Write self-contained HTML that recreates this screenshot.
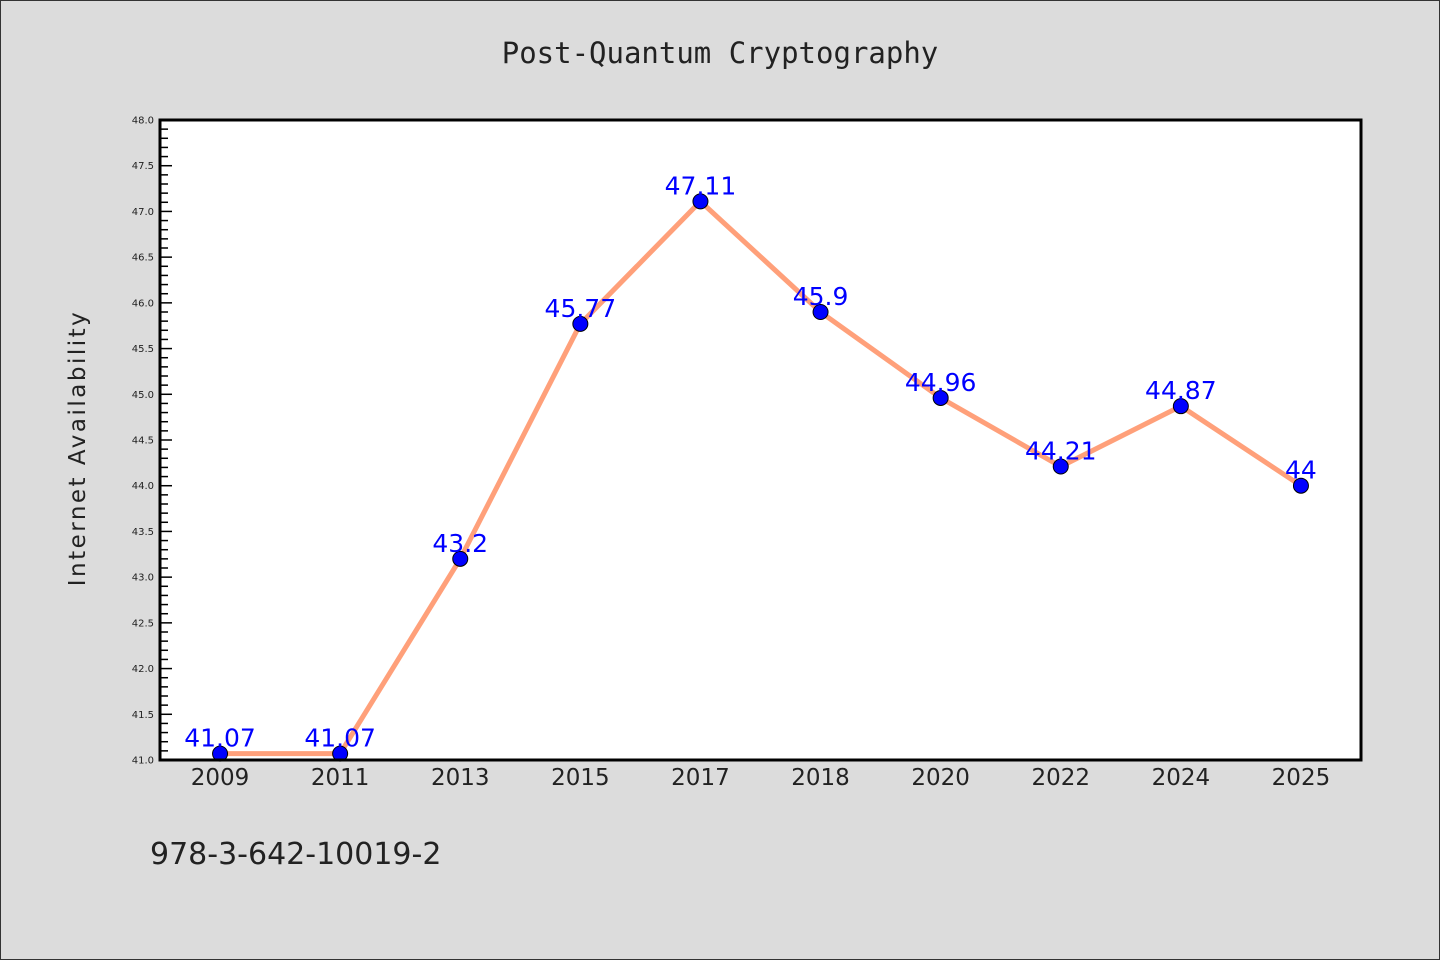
<!DOCTYPE html>
<html><head><meta charset="utf-8"><style>
body{margin:0;background:#dcdcdc;}
svg{display:block;font-family:"DejaVu Sans","Liberation Sans",sans-serif;}
</style></head><body>
<svg id="c" width="1440" height="960">
<rect x="0.5" y="0.5" width="1439" height="959" fill="#dcdcdc" stroke="#333"/>
<text x="720" y="63" text-anchor="middle" font-size="29" font-family="DejaVu Sans Mono, Liberation Mono, monospace" fill="#222">Post-Quantum Cryptography</text>
<text transform="translate(85,448) rotate(-90)" text-anchor="middle" font-size="23" letter-spacing="2.5" fill="#222">Internet Availability</text>
<text x="150" y="864" font-size="30" fill="#222">978-3-642-10019-2</text>
<rect x="160" y="120" width="1201" height="640" fill="#fff"/>
<g id="ticks"></g>
<g id="marks"></g>
<rect x="160" y="120" width="1201" height="640" fill="none" stroke="#000" stroke-width="3"/>
</svg>
<script>
const categories=["2009","2011","2013","2015","2017","2018","2020","2022","2024","2025"];
const values=[41.07,41.07,43.2,45.77,47.11,45.9,44.96,44.21,44.87,44];
const valueLabels=["41.07","41.07","43.2","45.77","47.11","45.9","44.96","44.21","44.87","44"];
const yTicks=[41.0,41.5,42.0,42.5,43.0,43.5,44.0,44.5,45.0,45.5,46.0,46.5,47.0,47.5,48.0];
const yMin=41,yMax=48,L=160,R=1361,T=120,B=760;
const NS="http://www.w3.org/2000/svg";
const x=i=>L+(R-L)*(i+0.5)/categories.length;
const y=v=>B-(v-yMin)/(yMax-yMin)*(B-T);
function mk(t,a,p){const e=document.createElementNS(NS,t);for(const k in a)e.setAttribute(k,a[k]);p.appendChild(e);return e;}
const tg=document.getElementById('ticks'),mg=document.getElementById('marks');
for(let k=0;k<=70;k++){const v=yMin+k*0.1;const major=k%5===0;
 const l=mk('line',{x1:L,x2:L+(major?12:8),y1:y(v),y2:y(v),stroke:'#000','stroke-width':1.5},tg);
 
 }
yTicks.forEach(v=>{const t=mk('text',{x:L-6,y:y(v)+3.5,'text-anchor':'end','font-size':10,fill:'#222'},tg);t.textContent=v.toFixed(1);
 
 });
categories.forEach((c,i)=>{const t=mk('text',{x:x(i),y:785,'text-anchor':'middle','font-size':23,fill:'#222'},tg);t.textContent=c;
 
 });
const pl=mk('polyline',{points:values.map((v,i)=>x(i)+','+y(v)).join(' '),fill:'none',stroke:'#ffa07a','stroke-width':5},mg);


values.forEach((v,i)=>{const c=mk('circle',{cx:x(i),cy:y(v),r:7.5,fill:'#0000ff',stroke:'#000','stroke-width':1},mg);
 
 
 const t=mk('text',{x:x(i),y:y(v)-7,'text-anchor':'middle','font-size':25,fill:'#0000ff'},mg);t.textContent=valueLabels[i];
 
 });
</script>
</body></html>
